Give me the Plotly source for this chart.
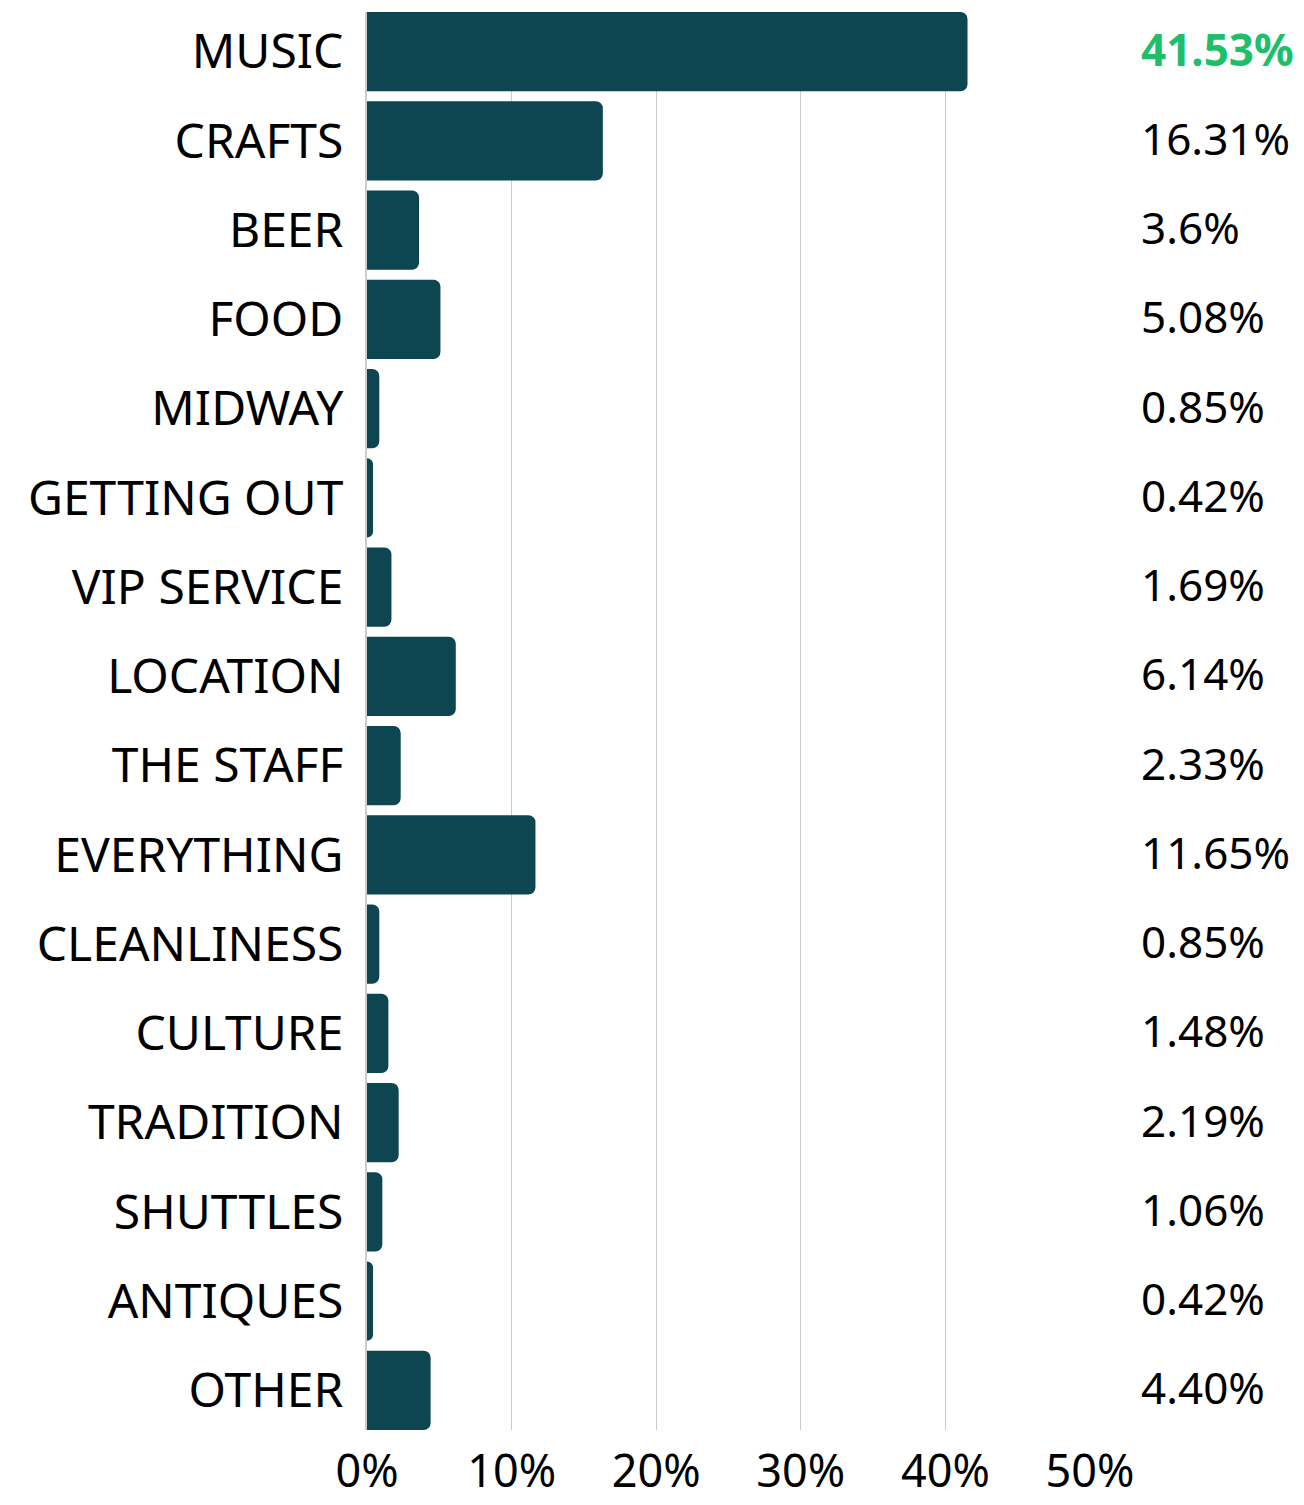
import plotly.graph_objects as go

categories = ["MUSIC", "CRAFTS", "BEER", "FOOD", "MIDWAY", "GETTING OUT", "VIP SERVICE",
              "LOCATION", "THE STAFF", "EVERYTHING", "CLEANLINESS", "CULTURE", "TRADITION",
              "SHUTTLES", "ANTIQUES", "OTHER"]
values = [41.53, 16.31, 3.6, 5.08, 0.85, 0.42, 1.69, 6.14, 2.33, 11.65, 0.85, 1.48, 2.19,
          1.06, 0.42, 4.40]
value_labels = ["41.53%", "16.31%", "3.6%", "5.08%", "0.85%", "0.42%", "1.69%", "6.14%",
                "2.33%", "11.65%", "0.85%", "1.48%", "2.19%", "1.06%", "0.42%", "4.40%"]
x_ticks = [0, 10, 20, 30, 40, 50]
x_tick_labels = ["0%", "10%", "20%", "30%", "40%", "50%"]

FONT = "Noto Sans"
GAP = 0.112
n = len(categories)

fig = go.Figure(go.Bar(
    x=values, y=categories, orientation="h",
    marker=dict(color="#0D4650", line=dict(width=0)),
    hoverinfo="skip",
))

for i, (cat, lab) in enumerate(zip(categories, value_labels)):
    top = i == 0
    fig.add_annotation(
        x=1.068, y=cat, xref="paper", yref="y", text=f"<b>{lab}</b>" if top else lab,
        showarrow=False, xanchor="left", yanchor="middle", yshift=3,
        font=dict(family=FONT, size=44, color="#1DBF6A" if top else "#000000"),
    )

fig.update_layout(
    width=1296, height=1497,
    margin=dict(l=359, r=214, t=4, b=75, autoexpand=False),
    paper_bgcolor="white", plot_bgcolor="white",
    bargap=GAP, barcornerradius=7,
    showlegend=False,
    font=dict(family=FONT, color="#000000"),
)
fig.update_xaxes(
    range=[0, 50], tickvals=x_ticks, ticktext=x_tick_labels,
    showgrid=True, gridcolor="#CCCCCC", gridwidth=1.2,
    zeroline=False, showline=False, automargin=False,
    tickfont=dict(family=FONT, size=45, color="#000000"),
    ticks="", ticklabelstandoff=11,
)
fig.update_yaxes(
    range=[n - 0.5 - GAP / 2, -0.5 + GAP / 2], automargin=False,
    showline=True, linecolor="#CCCCCC", linewidth=2,
    tickfont=dict(family=FONT, size=48, color="#000000"),
    ticks="", ticklabelstandoff=12,
)

fig.write_html("out.html")
